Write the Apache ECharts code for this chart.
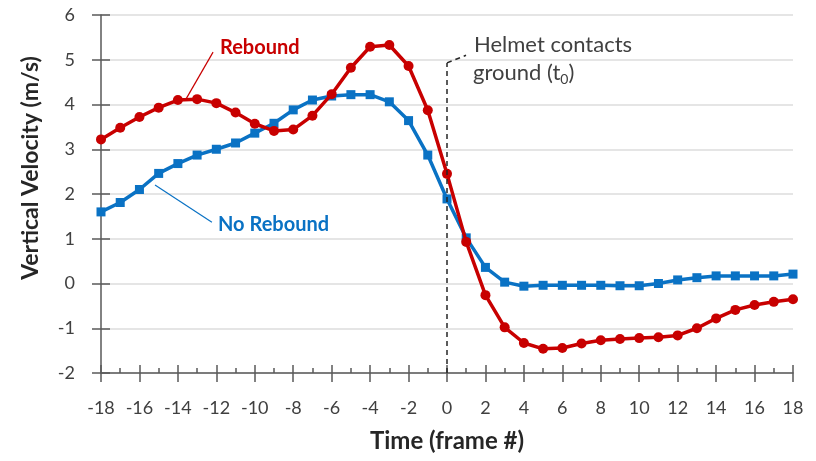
<!DOCTYPE html>
<html>
<head>
<meta charset="utf-8">
<script src="https://cdn.jsdelivr.net/npm/echarts@6/dist/echarts.min.js"></script>
<style>
html,body{margin:0;padding:0;background:#fff;}
#chart{width:816px;height:461px;}
</style>
</head>
<body>
<div id="chart"></div>
<script>
var frames = [-18,-17,-16,-15,-14,-13,-12,-11,-10,-9,-8,-7,-6,-5,-4,-3,-2,-1,0,1,2,3,4,5,6,7,8,9,10,11,12,13,14,15,16,17,18];
var rebound = [3.22,3.48,3.72,3.93,4.10,4.12,4.03,3.82,3.57,3.41,3.44,3.75,4.23,4.82,5.29,5.33,4.86,3.87,2.45,0.93,-0.26,-0.98,-1.33,-1.46,-1.44,-1.34,-1.27,-1.24,-1.22,-1.20,-1.16,-1.00,-0.78,-0.59,-0.48,-0.41,-0.35];
var noRebound = [1.60,1.81,2.10,2.46,2.68,2.87,3.00,3.14,3.36,3.58,3.88,4.10,4.19,4.22,4.22,4.06,3.64,2.87,1.89,1.02,0.36,0.03,-0.06,-0.04,-0.04,-0.04,-0.04,-0.05,-0.05,0.00,0.08,0.13,0.17,0.17,0.17,0.17,0.21];
var xTicks = {min:-18, max:18, step:2};
var yTicks = {min:-2, max:6, step:1};

function pairs(vals){ return frames.map(function(f,i){ return [f, vals[i]]; }); }

var RED = '#C80000', BLUE = '#0A72C4', AX = '#595959', TXT = '#404040';
var FONT = 'Lato, "Open Sans", sans-serif';

var chart = echarts.init(document.getElementById('chart'), null, {renderer:'canvas'});
var grid = {left:101, right:23, top:15, bottom:88, containLabel:false};

var option = {
  animation:false,
  backgroundColor:'#fff',
  grid: grid,
  xAxis: [{
    type:'value', min:xTicks.min, max:xTicks.max, interval:xTicks.step,
    axisLine:{onZero:false, lineStyle:{color:AX, width:1.5}},
    axisTick:{show:true, inside:false, length:9, lineStyle:{color:AX, width:1.5}},
    axisLabel:{color:TXT, fontSize:18, fontFamily:FONT, margin:26},
    splitLine:{show:false},
    name:'Time (frame #)', nameLocation:'middle', nameGap:56,
    nameTextStyle:{color:'#262626', fontSize:24, fontWeight:'bold', fontFamily:FONT}
  },{
    type:'value', min:xTicks.min, max:xTicks.max, interval:xTicks.step, position:'bottom',
    axisLine:{show:false, onZero:false},
    axisTick:{show:true, inside:true, length:8, lineStyle:{color:AX, width:1.5}},
    minorTick:{show:true, splitNumber:2, length:5, lineStyle:{color:AX, width:1.5}},
    axisLabel:{show:false}, splitLine:{show:false}
  }],
  yAxis: [{
    type:'value', min:yTicks.min, max:yTicks.max, interval:yTicks.step,
    axisLine:{show:true, onZero:false, lineStyle:{color:AX, width:1.5}},
    axisTick:{show:true, inside:false, length:9, lineStyle:{color:AX, width:1.5}},
    axisLabel:{color:TXT, fontSize:18, fontFamily:FONT, margin:26},
    splitLine:{show:true, lineStyle:{color:'#dcdcdc', width:1.5}}
  },{
    type:'value', min:yTicks.min, max:yTicks.max, interval:yTicks.step, position:'left',
    axisLine:{show:false, onZero:false},
    axisTick:{show:true, inside:true, length:9, lineStyle:{color:AX, width:1.5}},
    axisLabel:{show:false}, splitLine:{show:false}
  }],
  series: [{
    name:'No Rebound', type:'line', xAxisIndex:0, yAxisIndex:0,
    data: pairs(noRebound),
    symbol:'rect', symbolSize:9,
    lineStyle:{color:BLUE, width:3.5}, itemStyle:{color:BLUE},
    z:3
  },{
    name:'Rebound', type:'line', xAxisIndex:0, yAxisIndex:0,
    data: pairs(rebound),
    symbol:'circle', symbolSize:10,
    lineStyle:{color:RED, width:3.5}, itemStyle:{color:RED},
    z:4,
    markLine:{
      silent:true, symbol:['none','none'], label:{show:false},
      data:[
        [{coord:[-12.17,5.17], lineStyle:{color:RED, width:1.2, type:'solid'}},{coord:[-13.58,4.12]}],
        [{coord:[-15.19,2.20], lineStyle:{color:BLUE, width:1.2, type:'solid'}},{coord:[-12.23,1.37]}],
        [{coord:[0,-2], lineStyle:{color:'#262626', width:1.5, type:[5,4]}},{coord:[0,4.93]}],
        [{coord:[0,4.93], lineStyle:{color:'#262626', width:1.5, type:[5,4]}},{coord:[0.99,5.1]}]
      ]
    }
  }],
  graphic: [
    {type:'text', left:220, top:38, style:{text:'Rebound', fill:RED, font:'bold 20px '+FONT}},
    {type:'text', left:218, top:215, style:{text:'No Rebound', fill:BLUE, font:'bold 20px '+FONT}},
    {type:'text', left:474, top:34, style:{text:'Helmet contacts', fill:TXT, font:'22px '+FONT}},
    {type:'text', left:473, top:62, style:{
      text:'ground (t{s|0})', fill:TXT, font:'22px '+FONT,
      rich:{s:{fontSize:14, fontFamily:FONT, fill:TXT, verticalAlign:'bottom', padding:[12,0,0,0]}}
    }},
    {type:'text', rotation:Math.PI/2, x:19, y:168, style:{text:'Vertical Velocity (m/s)', fill:'#262626', font:'bold 23px '+FONT, align:'center'}}
  ]
};
chart.setOption(option);
</script>
</body>
</html>
